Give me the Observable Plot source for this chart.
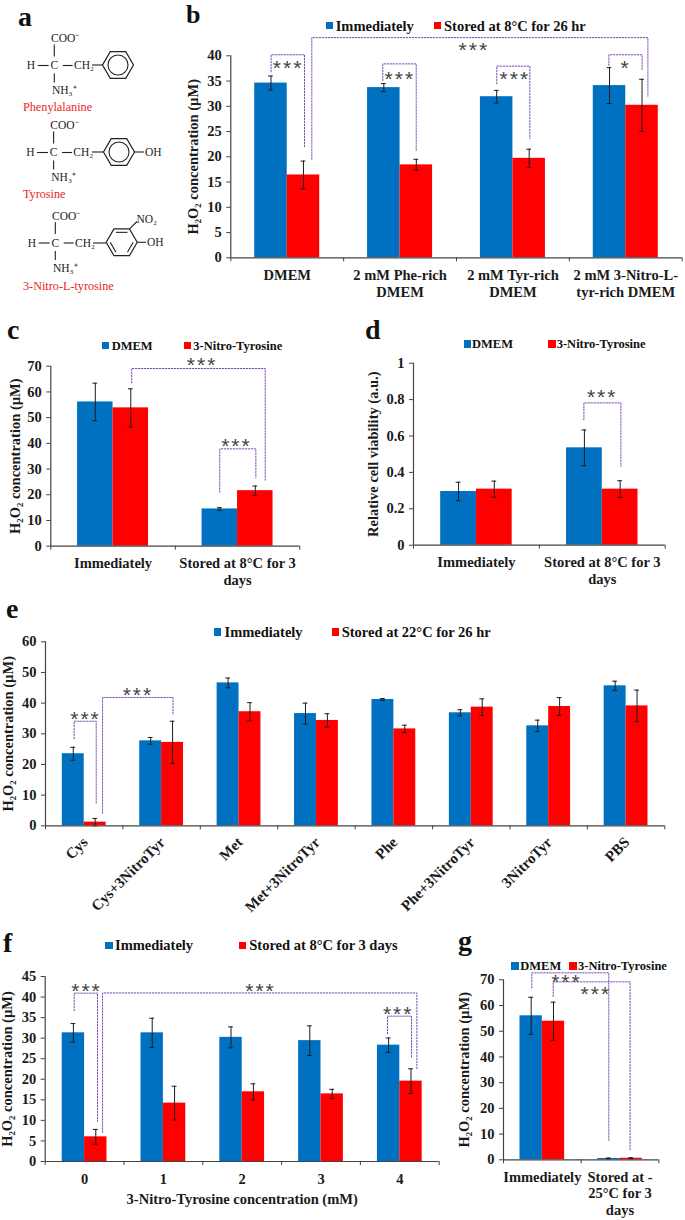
<!DOCTYPE html>
<html>
<head>
<meta charset="utf-8">
<script src="https://cdn.jsdelivr.net/npm/d3@7"></script>
<script src="https://cdn.jsdelivr.net/npm/@observablehq/plot@0.6"></script>
<style>
html,body{margin:0;padding:0;background:#fff;overflow:hidden}
#root{position:relative;width:685px;height:1220px;font-family:"Liberation Serif",serif;color:#111}
#root svg{position:absolute;overflow:visible;background:transparent}
.letter{position:absolute;font-weight:bold;line-height:24px;color:#111}
.sw{position:absolute;width:7.5px;height:7.5px}
.lg{position:absolute;font-weight:bold;white-space:nowrap;line-height:16px}
.stars text{letter-spacing:2px}
</style>
</head>
<body>
<div id="root"></div>
<script>
// ---------- data ----------
const BLUE = "#0070C0", RED = "#FF0000";
const H2O2 = "H₂O₂ concentration (µM)";

const bCategories = ["DMEM", "2 mM Phe-rich\nDMEM", "2 mM Tyr-rich\nDMEM", "2 mM 3-Nitro-L-\ntyr-rich DMEM"];
const bImmediate = [34.6, 33.7, 31.9, 34.1];
const bImmediateErr = [1.4, 0.8, 1.25, 3.55];
const bStored = [16.4, 18.4, 19.7, 30.2];
const bStoredErr = [2.75, 1.1, 1.8, 5.15];
const bTicks = [0, 5, 10, 15, 20, 25, 30, 35, 40];
const bBrackets = [[0.357,0.653,40.2,36.8,21.8],[1.347,1.643,38.4,35.1,21.25],[2.357,2.65,37.95,34.45,23.6],[3.35,3.645,40.2,38.1,37.3],[0.718,3.696,43.6,19.5,32]];
const bStars = [[0.499,38.6,"***"],[1.489,36.3,"***"],[2.508,36.3,"***"],[3.489,38.6,"*"],[2.145,42,"***"]];

const cCategories = ["Immediately", "Stored at 8°C for 3\ndays"];
const cDmem = [56.1, 14.5];
const cDmemErr = [7.3, 0.5];
const cNitro = [53.8, 21.6];
const cNitroErr = [7.4, 1.8];
const cTicks = [0, 10, 20, 30, 40, 50, 60, 70];
const cBrackets = [[0.65,1.722,69.1,63.5,25.3],[1.357,1.647,37.85,21,26.6]];
const cStars = [[1.207,72.5,"***"],[1.483,40.8,"***"]];

const dCategories = ["Immediately", "Stored at 8°C for 3\ndays"];
const dDmem = [0.295, 0.535];
const dDmemErr = [0.051, 0.098];
const dNitro = [0.308, 0.308];
const dNitroErr = [0.044, 0.046];
const dTicks = [0, 0.2, 0.4, 0.6, 0.8, 1];
const dBrackets = [[1.354,1.648,0.782,0.689,0.432]];
const dStars = [[1.491,0.841,"***"]];

const eCategories = ["Cys", "Cys+3NitroTyr", "Met", "Met+3NitroTyr", "Phe", "Phe+3NitroTyr", "3NitroTyr", "PBS"];
const eImmediate = [23.5, 27.7, 46.6, 36.6, 41.2, 36.85, 32.6, 45.65];
const eImmediateErr = [2.1, 1.1, 1.6, 3.4, 0.3, 1, 1.85, 1.5];
const eStored = [1.2, 27.2, 37.2, 34.35, 31.6, 38.7, 38.9, 39.1];
const eStoredErr = [1.2, 6.9, 2.95, 2.2, 1.2, 2.7, 2.9, 5.15];
const eTicks = [0, 10, 20, 30, 40, 50, 60];
const eBrackets = [[0.37,0.655,34.1,28.4,7.4],[0.737,1.647,41.85,4.1,36.2]];
const eStars = [[0.504,36.5,"***"],[1.181,44.35,"***"]];

const fCategories = ["0", "1", "2", "3", "4"];
const fImmediate = [31.3, 31.3, 30.2, 29.4, 28.3];
const fImmediateErr = [2.25, 3.55, 2.55, 3.6, 1.75];
const fStored = [6, 14.2, 16.95, 16.45, 19.55];
const fStoredErr = [1.8, 4.1, 1.95, 1.1, 3];
const fTicks = [0, 5, 10, 15, 20, 25, 30, 35, 40, 45];
const fBrackets = [[0.368,0.664,40.95,36.7,9.8],[0.728,4.717,41,7.1,22.5],[4.344,4.649,35.35,31.05,25.4]];
const fStars = [[0.512,42.66,"***"],[2.72,42.66,"***"],[4.467,37.15,"***"]];

const gCategories = ["Immediately", "Stored at -\n25°C for 3\ndays"];
const gDmem = [56, 0.5];
const gDmemErr = [7.2, 0.2];
const gNitro = [53.9, 0.6];
const gNitroErr = [7.4, 0.2];
const gTicks = [0, 10, 20, 30, 40, 50, 60, 70];
const gBrackets = [[0.365,1.356,72.7,66.8,7.3],[0.64,1.63,69.2,63.5,3.9]];
const gStars = [[0.798,71,"***"],[1.176,66.5,"***"]];

// ---------- drawing ----------
const root = document.getElementById("root");

function panel(o) {
  const n = o.cats.length;
  const rows = [];
  o.cats.forEach((c, i) => {
    rows.push({x1: i + 0.5 - o.frac, x2: i + 0.5, v: o.a[i], e: o.aErr[i], fill: BLUE});
    rows.push({x1: i + 0.5, x2: i + 0.5 + o.frac, v: o.b[i], e: o.bErr[i], fill: RED});
  });
  rows.forEach(r => r.c = (r.x1 + r.x2) / 2);
  const cap = 2.4 / ((o.x1 - o.x0) / n);
  const lines = o.brackets.flatMap((b, k) => [
    {k, x: b[0], y: b[3]}, {k, x: b[0], y: b[2]}, {k, x: b[1], y: b[2]}, {k, x: b[1], y: b[4]}
  ]);
  const centers = o.cats.map((c, i) => ({c, x: i + 0.5}));
  const marks = [
    Plot.rectY(rows, {x1: "x1", x2: "x2", y1: 0, y2: "v", fill: "fill"}),
    Plot.ruleX(rows, {x: "c", y1: d => Math.max(0, d.v - d.e), y2: d => d.v + d.e, stroke: "#1c1c1c", strokeWidth: 1}),
    Plot.ruleY(rows, {y: d => d.v + d.e, x1: d => d.c - cap, x2: d => d.c + cap, stroke: "#1c1c1c", strokeWidth: 1}),
    Plot.ruleY(rows, {y: d => Math.max(0, d.v - d.e), x1: d => d.c - cap, x2: d => d.c + cap, stroke: "#1c1c1c", strokeWidth: 1}),
    Plot.ruleY([o.ticks[0]], {stroke: "#444", strokeWidth: 1.2}),
    Plot.ruleX([0], {stroke: "#444", strokeWidth: 1.2}),
    Plot.axisY({ticks: o.ticks, tickFormat: d => String(d), tickSize: 4, tickPadding: 5, stroke: "#444",
      label: o.ylabel, labelAnchor: "center", labelArrow: "none", labelOffset: o.labelOffset, fill: "#1a1a1a"}),
    Plot.axisX({ticks: d3.range(n + 1), tickFormat: () => "", tickSize: 4, stroke: "#444", label: null}),
    Plot.line(lines, {x: "x", y: "y", z: "k", stroke: "#7b4bb8", strokeWidth: 1, strokeDasharray: "1.5 1.5", curve: "linear"}),
    Plot.text(o.stars, {x: d => d[0], y: d => d[1], text: d => d[2], fontFamily: "Liberation Sans", fontWeight: "normal",
      fontSize: 21, dx: 1, dy: 5, fill: "#444", lineAnchor: "middle", className: "stars"}),
    o.rotate
      ? Plot.text(centers, {x: "x", y: () => 0, text: "c", rotate: -45, textAnchor: "end", lineAnchor: "middle", dx: 1, dy: 14, fontSize: 15, fill: "#1a1a1a"})
      : Plot.text(centers, {x: "x", y: () => 0, text: "c", lineAnchor: "top", dy: o.labelDy ?? 10, lineHeight: o.lineHeight ?? 1.17, fill: "#1a1a1a"})
  ];
  if (o.xlabel) marks.push(Plot.text([o.xlabel], {x: n / 2, y: () => 0, text: d => d, lineAnchor: "middle", dy: 37.5, fill: "#1a1a1a"}));
  const svg = Plot.plot({
    width: o.W, height: o.H,
    marginLeft: o.x0 - o.L, marginRight: o.L + o.W - o.x1,
    marginTop: o.yTop - o.T, marginBottom: o.T + o.H - o.yBottom,
    x: {domain: [0, n]},
    y: {domain: [o.ticks[0], o.ticks[o.ticks.length - 1]]},
    style: {fontFamily: "Liberation Serif", fontWeight: "bold", fontSize: (o.fontSize ?? 14.5) + "px", background: "transparent", overflow: "visible"},
    marks
  });
  svg.style.left = o.L + "px";
  svg.style.top = o.T + "px";
  root.appendChild(svg);
}

function legend(items, size) {
  items.forEach(([sx, sy, color, tx, ty, label]) => {
    const s = document.createElement("div");
    s.className = "sw"; s.style.left = sx + "px"; s.style.top = sy + "px"; s.style.background = color;
    root.appendChild(s);
    const t = document.createElement("div");
    t.className = "lg"; t.style.left = tx + "px"; t.style.top = (ty - 8) + "px"; t.style.fontSize = size + "px"; t.textContent = label;
    root.appendChild(t);
  });
}

function letters() {
  [["a",18,26.7,28],["b",186,24,26],["c",7,339,28],["d",365,339,28],["e",6,618,28],["f",3,952,28],["g",458,950,28]].forEach(([l, x, base, size]) => {
    const d = document.createElement("div");
    d.className = "letter"; d.textContent = l;
    d.style.fontSize = size + "px";
    d.style.left = x + "px";
    d.style.top = (base - 12 - 0.3375 * size) + "px";
    root.appendChild(d);
  });
}

function hexPoints(cx, cy, r) {
  return d3.range(6).map(i => [cx + r * Math.cos(i * Math.PI / 3), cy + r * Math.sin(i * Math.PI / 3)]);
}

function structures() {
  const svg = d3.select(root).append("svg").attr("width", 180).attr("height", 300).style("left", "0px").style("top", "0px");
  const g = svg.append("g").attr("font-family", "Liberation Serif").attr("font-size", 11.5).attr("fill", "#222");
  const line = (x1, y1, x2, y2) => g.append("line").attr("x1", x1).attr("y1", y1).attr("x2", x2).attr("y2", y2).attr("stroke", "#222").attr("stroke-width", 1.1);
  const text = (x, y, t, anchor = "start") => g.append("text").attr("x", x).attr("y", y).attr("dy", "0.32em").attr("text-anchor", anchor).text(t);
  const body = (dx, y) => {
    text(51 + dx, y - 27, "COO⁻");
    line(54.3 + dx, y - 21, 54.3 + dx, y - 9);
    text(54.3 + dx, y, "C", "middle");
    text(31 + dx, y, "H", "middle");
    line(37.7 + dx, y, 48.7 + dx, y);
    line(62.7 + dx, y, 72.7 + dx, y);
    text(74 + dx, y, "CH₂");
    line(54.3 + dx, y + 8, 54.3 + dx, y + 17);
    text(52 + dx, y + 25, "NH₃⁺");
  };
  const ring = (cx, cy, inner) => {
    const p = hexPoints(cx, cy, 15.5);
    g.append("polygon").attr("points", p.map(q => q.join(",")).join(" ")).attr("fill", "none").attr("stroke", "#222").attr("stroke-width", 1.2);
    if (inner === "circle") g.append("circle").attr("cx", cx).attr("cy", cy).attr("r", 10).attr("fill", "none").attr("stroke", "#222").attr("stroke-width", 1.1);
    else [[0,1],[2,3],[4,5]].forEach(([a, b]) => {
      const q = hexPoints(cx, cy, 11.5);
      line(q[a][0], q[a][1], q[b][0], q[b][1]);
    });
  };
  const name = (y, t) => g.append("text").attr("x", 23).attr("y", y).attr("dy", "0.32em").attr("fill", "#e8262a").attr("font-size", 12.2).text(t);

  body(0, 65.5); ring(118, 65, "circle"); line(92, 65, 103, 65); name(107, "Phenylalanine");
  body(-0.7, 152.5); ring(119, 152, "circle"); line(92, 152, 103.5, 152); line(134.5, 152, 144, 152); text(145, 152, "OH"); name(194.3, "Tyrosine");
  body(1, 243); ring(121.7, 242.3, "bonds"); line(93, 243, 106, 243); line(137, 242.3, 146, 242.3); text(147, 242.3, "OH");
  line(129.5, 228.8, 137, 221.5); text(136.5, 219, "NO₂"); name(285.7, "3-Nitro-L-tyrosine");
}

panel({L:180,W:505,T:30,H:280,x0:230.3,x1:681.7,yTop:55.3,yBottom:257.3,cats:bCategories,a:bImmediate,aErr:bImmediateErr,b:bStored,bErr:bStoredErr,ticks:bTicks,frac:0.288,brackets:bBrackets,stars:bStars,ylabel:H2O2,labelOffset:43,labelDy:10});
panel({L:0,W:340,T:352,H:238,x0:50.3,x1:299.3,yTop:365.7,yBottom:545.7,cats:cCategories,a:cDmem,aErr:cDmemErr,b:cNitro,bErr:cNitroErr,ticks:cTicks,frac:0.285,brackets:cBrackets,stars:cStars,ylabel:H2O2,labelOffset:41});
panel({L:345,W:340,T:352,H:238,x0:413,x1:664.7,yTop:362.7,yBottom:544.7,cats:dCategories,a:dDmem,aErr:dDmemErr,b:dNitro,bErr:dNitroErr,ticks:dTicks,frac:0.284,brackets:dBrackets,stars:dStars,ylabel:"Relative cell viability (a.u.)",labelOffset:46});
panel({L:0,W:685,T:638,H:275,x0:45,x1:664.3,yTop:641.3,yBottom:825.3,cats:eCategories,a:eImmediate,aErr:eImmediateErr,b:eStored,bErr:eStoredErr,ticks:eTicks,frac:0.283,brackets:eBrackets,stars:eStars,ylabel:H2O2,labelOffset:43,rotate:true});
panel({L:0,W:440,T:960,H:255,x0:44.7,x1:438.7,yTop:976,yBottom:1161,cats:fCategories,a:fImmediate,aErr:fImmediateErr,b:fStored,bErr:fStoredErr,ticks:fTicks,frac:0.284,brackets:fBrackets,stars:fStars,ylabel:H2O2,labelOffset:43,xlabel:"3-Nitro-Tyrosine concentration (mM)"});
panel({L:445,W:240,T:968,H:250,x0:503,x1:658.3,yTop:979.3,yBottom:1159.3,cats:gCategories,a:gDmem,aErr:gDmemErr,b:gNitro,bErr:gNitroErr,ticks:gTicks,frac:0.2875,brackets:gBrackets,stars:gStars,ylabel:H2O2,labelOffset:45,lineHeight:1.15});

legend([[325.7,21.7,BLUE,335.7,25.5,"Immediately"],[433.7,21.7,RED,444,25.5,"Stored at 8°C for 26 hr"]], 14.5);
legend([[101.7,341.7,BLUE,111.7,345.7,"DMEM"],[183.7,341.7,RED,193.3,345.7,"3-Nitro-Tyrosine"]], 12.5);
legend([[463.7,340.3,BLUE,472,344,"DMEM"],[548,340.3,RED,556.7,344,"3-Nitro-Tyrosine"]], 12.5);
legend([[213.7,628.3,BLUE,224.5,632,"Immediately"],[331.7,628.3,RED,341.7,632,"Stored at 22°C for 26 hr"]], 14.5);
legend([[105,941.7,BLUE,115,945,"Immediately"],[238.7,941.7,RED,249.3,945,"Stored at 8°C for 3 days"]], 14.5);
legend([[511,962,BLUE,520.3,966,"DMEM"],[569.3,962,RED,578,966,"3-Nitro-Tyrosine"]], 12.5);
letters();
structures();
</script>
</body>
</html>
